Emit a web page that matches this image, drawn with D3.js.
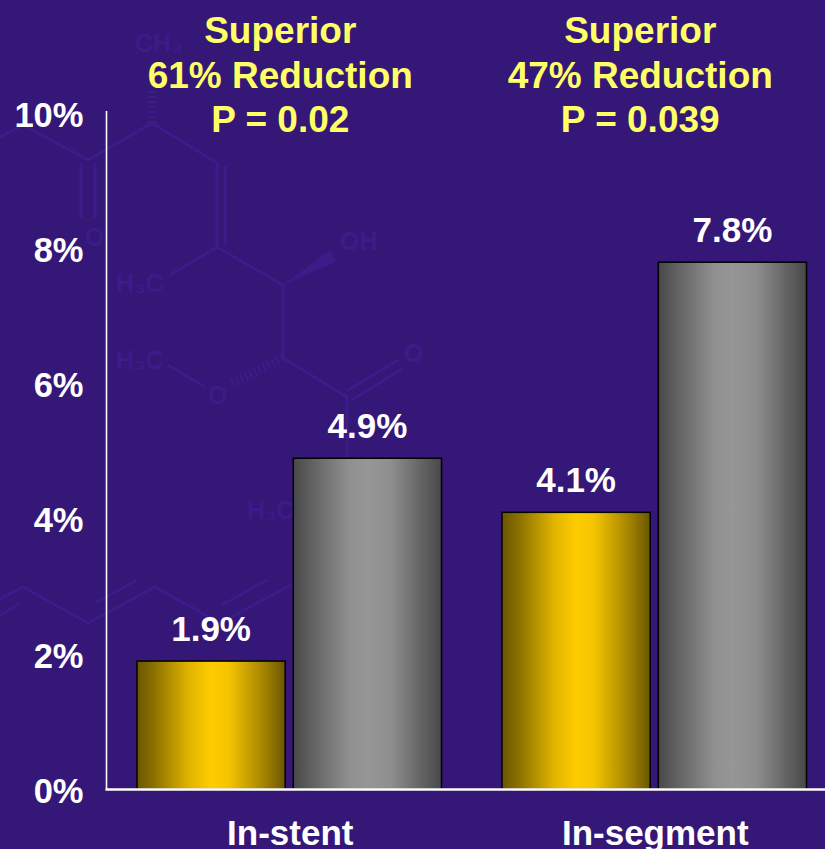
<!DOCTYPE html>
<html>
<head>
<meta charset="utf-8">
<script src="https://cdn.jsdelivr.net/npm/d3@7"></script>
<style>
  html, body { margin: 0; padding: 0; background: #351778; overflow: hidden; }
  svg { display: block; }
  text { font-family: "Liberation Sans", Arial, sans-serif; font-weight: 700; }
</style>
</head>
<body>
<div id="chart"></div>
<script>
// Chart values
const categories = ["In-stent", "In-segment"];
const seriesNames = ["treatment", "control"];
const treatmentValues = [1.9, 4.1];
const controlValues = [4.9, 7.8];
const yTicks = [0, 2, 4, 6, 8, 10];
const headerLines = [
  ["Superior", "61% Reduction", "P = 0.02"],
  ["Superior", "47% Reduction", "P = 0.039"]
];

const width = 825, height = 849;
const svg = d3.select("#chart").append("svg").attr("width", width).attr("height", height);
svg.append("rect").attr("width", width).attr("height", height).attr("fill", "#351778");

// Watermark: a faint structural formula behind the plot
const ink = "#3b1c88";
const wm = svg.append("g").attr("fill", "none").attr("stroke", ink).attr("stroke-width", 3);
[
  "M-2,138L23,125L88,160L152,123L217,163V247L283,285V358L347,397V458",
  "M81,163V218M95,163V218M225,166V245",
  "M217,247L170,275M168,365L205,387",
  "M347,391L398,360M352,400L402,369",
  "M-2,600L23,587L88,623L155,587L220,623L287,587L294,583",
  "M-2,617L20,603M95,603L137,580M222,605L267,580"
].forEach(d => wm.append("path").attr("d", d));
wm.append("path").attr("d", "M283,285L330,250L336,262Z").attr("fill", ink).attr("stroke", "none");
wm.append("path").attr("d", "M152,123V88").attr("stroke-width", 9).attr("stroke-dasharray", "2 3");
wm.append("path").attr("d", "M283,358L232,383").attr("stroke-width", 9).attr("stroke-dasharray", "2 3");
[
  ["CH\u2083", 135, 52], ["OH", 340, 250], ["H\u2083C", 116, 292], ["H\u2083C", 116, 369],
  ["O", 85, 246], ["O", 208, 404], ["O", 404, 362], ["H\u2083C", 247, 519]
].forEach(([t, x, y]) => svg.append("text").text(t).attr("x", x).attr("y", y)
  .attr("fill", ink).attr("font-size", 25));

// Scales
const margin = { left: 106.5, baseline: 789.5 };
const y = d3.scaleLinear().domain([0, 10]).range([margin.baseline, 113.5]);
const x0 = d3.scaleBand().domain(categories).range([137, 806.5]).paddingInner(0.1658);
const x1 = d3.scaleBand().domain(seriesNames).range([0, x0.bandwidth()]).paddingInner(0.052);

// Horizontal bar shading, dark at the edges and bright in the middle
const defs = svg.append("defs");
function shade(id, stops) {
  const g = defs.append("linearGradient").attr("id", id)
    .attr("x1", "0%").attr("x2", "100%").attr("y1", "0%").attr("y2", "0%");
  stops.forEach(([o, c]) => g.append("stop").attr("offset", o).attr("stop-color", c));
}
shade("gold", [["0%", "#6b5600"], ["12%", "#8d7200"], ["35%", "#e0b400"], ["50%", "#ffcc00"], ["62%", "#f5c400"], ["85%", "#a68600"], ["100%", "#6b5600"]]);
shade("silver", [["0%", "#484848"], ["15%", "#666666"], ["38%", "#909090"], ["50%", "#969696"], ["66%", "#8e8e8e"], ["85%", "#666666"], ["100%", "#484848"]]);

// Bars and their value labels
const rows = categories.map((c, i) => [
  { category: c, series: "treatment", value: treatmentValues[i], fill: "url(#gold)" },
  { category: c, series: "control", value: controlValues[i], fill: "url(#silver)" }
]).flat();

svg.append("g").selectAll("rect").data(rows).join("rect")
  .attr("x", d => x0(d.category) + x1(d.series))
  .attr("y", d => y(d.value))
  .attr("width", x1.bandwidth())
  .attr("height", d => y(0) - y(d.value))
  .attr("fill", d => d.fill)
  .attr("stroke", "#000")
  .attr("stroke-width", 1.5);

svg.append("g").selectAll("text").data(rows).join("text")
  .attr("x", d => x0(d.category) + x1(d.series) + x1.bandwidth() / 2)
  .attr("y", d => y(d.value) - 20.5)
  .attr("text-anchor", "middle")
  .attr("fill", "#fff")
  .attr("font-size", 35)
  .text(d => d.value.toFixed(1) + "%");

// Value axis
const yAxis = svg.append("g").attr("transform", `translate(${margin.left},0)`)
  .call(d3.axisLeft(y).tickValues(yTicks).tickSize(0).tickPadding(23).tickFormat(d => d + "%"));
yAxis.select(".domain").attr("stroke", "#fff").attr("stroke-width", 1.6).attr("d", `M0,${margin.baseline}V111`);
yAxis.selectAll("text").attr("fill", "#fff").attr("font-size", 34.5).attr("dy", "0.37em")
  .style("font-family", '"Liberation Sans", Arial, sans-serif').style("font-weight", 700);

// Category axis, its baseline running off the right edge
const xAxis = svg.append("g").attr("transform", `translate(1,${margin.baseline})`)
  .call(d3.axisBottom(x0).tickSize(0).tickPadding(30.5));
xAxis.select(".domain").attr("stroke", "#fff").attr("stroke-width", 2.6).attr("d", `M${margin.left - 2},0H${width}`);
xAxis.selectAll("text").attr("fill", "#fff").attr("font-size", 35)
  .style("font-family", '"Liberation Sans", Arial, sans-serif').style("font-weight", 700);

// Yellow comparison headers above each group
const headerShift = -9;
const lineGap = 44.5;
headerLines.forEach((lines, i) => {
  lines.forEach((line, j) => {
    svg.append("text")
      .attr("x", x0(categories[i]) + x0.bandwidth() / 2 + headerShift - (i === 1 ? 5 : 0))
      .attr("y", 43 + j * lineGap)
      .attr("text-anchor", "middle")
      .attr("fill", "#ffff66")
      .attr("font-size", 37)
      .text(line);
  });
});
</script>
</body>
</html>
